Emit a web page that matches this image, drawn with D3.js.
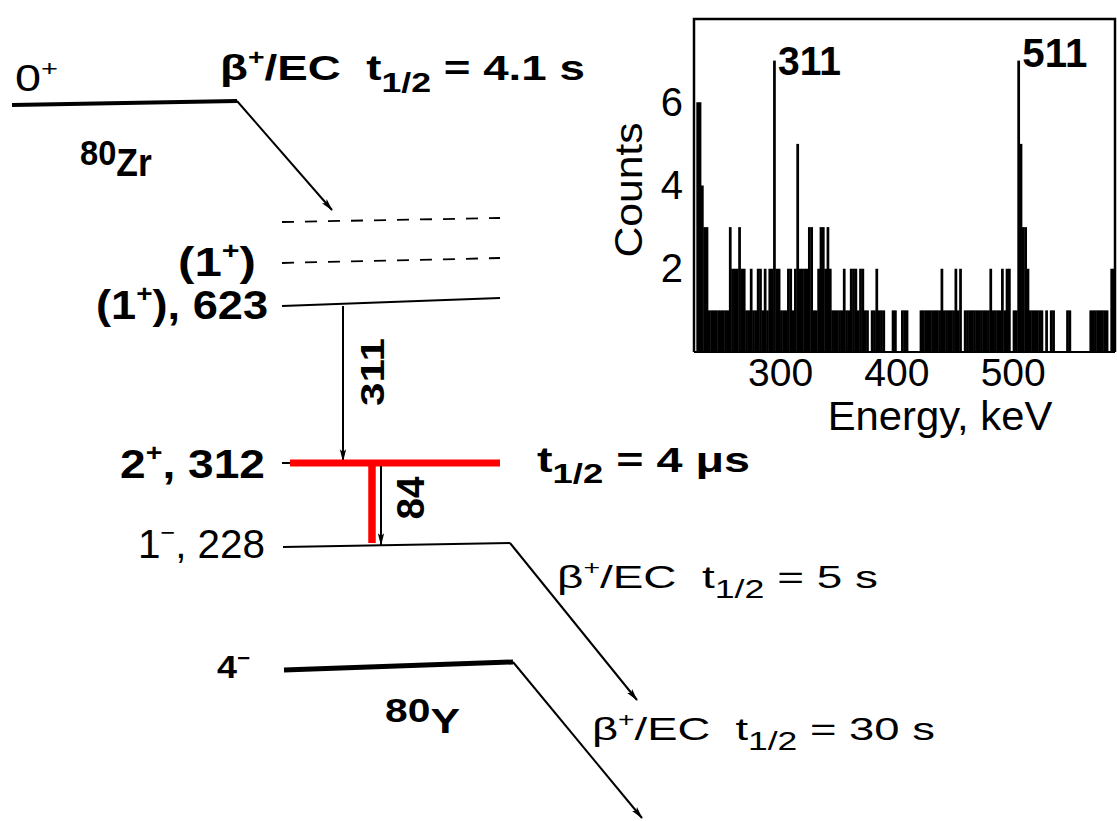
<!DOCTYPE html>
<html><head><meta charset="utf-8">
<script src="https://cdn.jsdelivr.net/npm/d3@7"></script>
<style>
html,body{margin:0;padding:0;background:#fff;}
svg{display:block;}
text{font-family:"Liberation Sans", Arial, Helvetica, sans-serif; fill:#000;}
</style></head><body>
<svg id="chart" width="1117" height="821"></svg>
<script>
// ---------------- Inset spectrum data ----------------
const spectrumStartKeV = 228;   // first bin lower edge
const spectrumBinKeV = 2;       // bin width
const spectrumCounts = [
  6,6,4,3,3,1,1,1,1,1, 1,1,1,1,3,2,2,2,3,2,
  2,1,1,2,1,1,2,2,1,2, 1,2,2,7,2,2,1,1,1,2,
  2,1,2,5,2,2,2,2,3,3, 1,1,2,3,3,2,3,2,1,1,
  1,1,1,2,1,1,2,2,2,1, 2,2,1,1,0,1,1,2,1,1,
  1,0,0,0,1,1,0,0,1,1, 1,0,0,0,0,0,1,1,1,1,
  1,1,1,1,1,2,1,1,1,1, 1,2,1,2,0,1,1,1,1,1,
  1,1,1,1,1,1,2,1,1,1, 1,2,1,2,2,0,1,1,7,5,
  3,3,2,1,1,1,1,1,1,0, 1,0,1,1,0,0,0,0,0,1,
  1,0,0,0,0,0,0,0,0,1, 1,1,1,1,1,1,1,0,2,2
];
const energyDomain = [226, 588];
const countDomain = [0, 8];
const energyTicks = [300, 400, 500];
const countTicks = [2, 4, 6];
const peakLabels = ["311", "511"];
const peakBinEnergies = [294, 504];
const xAxisTitle = "Energy, keV";
const yAxisTitle = "Counts";

// ---------------- Decay-scheme text ----------------
const parentSpin = [["0","n"],["+","sup"]];
const parentNucleus = [["80","raise"],["Zr","n"]];
const daughterNucleus = [["80","raise"],["Y","n"]];
const decayZr = [["β","n"],["+","sup"],["/EC\u00A0\u00A0t","n"],["1/2","sub"],["\u00A0=\u00A04.1\u00A0s","n"]];
const decayIso = [["β","n"],["+","sup"],["/EC\u00A0\u00A0t","n"],["1/2","sub"],["\u00A0=\u00A05\u00A0s","n"]];
const decayGs = [["β","n"],["+","sup"],["/EC\u00A0\u00A0t","n"],["1/2","sub"],["\u00A0=\u00A030\u00A0s","n"]];
const isomerHalfLife = [["t","n"],["1/2","sub"],["\u00A0=\u00A04\u00A0μs","n"]];
const lvlUpper = [["(1","n"],["+","sup"],[")","n"]];
const lvl623 = [["(1","n"],["+","sup"],["),\u00A0623","n"]];
const lvl312 = [["2","n"],["+","sup"],[",\u00A0312","n"]];
const lvl228 = [["1","n"],["−","sup"],[",\u00A0228","n"]];
const lvlGs = [["4","n"],["−","sup"]];
const gammaLabels = ["311", "84"];

// ---------------- drawing ----------------
const svg = d3.select("#chart");
const defs = svg.append("defs");
defs.append("marker").attr("id","arr")
  .attr("viewBox","0 -5 14 10").attr("refX",13).attr("refY",0)
  .attr("markerWidth",14).attr("markerHeight",9).attr("markerUnits","userSpaceOnUse")
  .attr("orient","auto")
  .append("path").attr("d","M0,-3.5L14,0L0,3.5L3,0Z").attr("fill","#000");

function rich(sel, o, parts){
  const t = sel.append("text")
    .attr("font-size", o.size)
    .attr("font-weight", o.weight || "normal")
    .attr("text-anchor", o.anchor || "start")
    .style("white-space","pre");
  let shift = 0;
  parts.forEach(([s,k]) => {
    let size = o.size, target = 0;
    if (k === "sup") { size = o.size*0.62; target = -o.size*0.42; }
    else if (k === "sub") { size = o.size*0.78; target = o.size*0.32; }
    else if (k === "raise") { size = o.size*0.92; target = -o.size*0.3; }
    t.append("tspan").attr("font-size", size).attr("dy", target - shift).text(s);
    shift = target;
  });
  const w = t.node().getBBox().width;
  const sx = o.width ? o.width / w : 1;
  t.attr("transform", `translate(${o.x},${o.y})` + (o.rotate ? ` rotate(${o.rotate})` : "") + ` scale(${sx},1)`);
  return t;
}

// ----- Inset spectrum -----
const x = d3.scaleLinear().domain(energyDomain).range([694, 1115]);
const y = d3.scaleLinear().domain(countDomain).range([352, 19]);
const ins = svg.append("g");

const bins = spectrumCounts.map((c,i) => ({e0: spectrumStartKeV + i*spectrumBinKeV, c}));
ins.selectAll("rect.bin").data(bins.filter(d => d.c > 0)).join("rect")
  .attr("class","bin")
  .attr("x", d => x(d.e0))
  .attr("width", d => x(d.e0 + spectrumBinKeV) - x(d.e0) + 0.4)
  .attr("y", d => y(d.c))
  .attr("height", d => y(0) - y(d.c))
  .attr("fill","#000");

// frame
ins.append("path")
  .attr("d", `M${x(energyDomain[0])},${y(0)}V${y(countDomain[1])}H${x(energyDomain[1])}V${y(0)}`)
  .attr("fill","none").attr("stroke","#000").attr("stroke-width",2.5);
ins.append("line").attr("x1",x(energyDomain[0])).attr("x2",x(energyDomain[1]))
  .attr("y1",y(0)).attr("y2",y(0)).attr("stroke","#000").attr("stroke-width",2);

const xa = ins.append("g").attr("transform",`translate(0,${y(0)})`)
  .call(d3.axisBottom(x).tickValues(energyTicks).tickSize(0).tickPadding(6).tickFormat(d3.format("d")));
xa.select(".domain").remove();
xa.attr("font-size", null).attr("font-family", null);
xa.selectAll("text").style("font-size","39px").style("font-family","'Liberation Sans', Arial, sans-serif").attr("fill","#000");

const ya = ins.append("g").attr("transform",`translate(${x(energyDomain[0])},0)`)
  .call(d3.axisLeft(y).tickValues(countTicks).tickSize(0).tickPadding(11).tickFormat(d3.format("d")));
ya.select(".domain").remove();
ya.attr("font-size", null).attr("font-family", null);
ya.selectAll("text").style("font-size","40px").style("font-family","'Liberation Sans', Arial, sans-serif").attr("fill","#000");

peakLabels.forEach((lab,i) => {
  rich(ins, {x: x(peakBinEnergies[i]) + 5, y: i === 0 ? 75 : 67, size: 40, weight: "bold", width: i === 0 ? 63 : 65}, [[lab,"n"]]);
});
rich(ins, {x: 940, y: 430, size: 40, anchor: "middle", width: 225}, [[xAxisTitle,"n"]]);
rich(ins, {x: 642, y: 190, size: 38, anchor: "middle", rotate: -90, width: 135}, [[yAxisTitle,"n"]]);

// ----- Decay scheme -----
const sc = svg.append("g");
function seg(x1,y1,x2,y2,w,col,extra){
  const l = sc.append("line").attr("x1",x1).attr("y1",y1).attr("x2",x2).attr("y2",y2)
    .attr("stroke",col||"#000").attr("stroke-width",w);
  if (extra) extra(l);
  return l;
}
const arrow = l => l.attr("marker-end","url(#arr)");
const dashed = l => l.attr("stroke-dasharray","12,11");

// 80Zr ground state
seg(12,105,237,101,4);
seg(237,101,332,210,2,null,arrow);
// 80Y levels
seg(282,222,500,218,1.8,null,dashed);
seg(282,263,500,258,1.8,null,dashed);
seg(282,306,500,298,2.2);
seg(343,306,343,461,2,null,arrow);
seg(282,463,500,463,2);
seg(290,463,500,463,7,"#ff0000");
seg(372,463,372,543,7.5,"#ff0000");
seg(381,466,381,545,2,null,arrow);
seg(283,547,510,543,2.2);
seg(510,543,637,700,2,null,arrow);
seg(284,670,513,662,5);
seg(513,662,642,818,2,null,arrow);

// scheme text
rich(sc, {x:15, y:91, size:36, width:43}, parentSpin);
rich(sc, {x:220, y:80, size:36, weight:"bold", width:365}, decayZr);
rich(sc, {x:80, y:176, size:38, weight:"bold", width:72}, parentNucleus);
rich(sc, {x:256, y:276, size:40, weight:"bold", anchor:"end", width:78}, lvlUpper);
rich(sc, {x:268, y:319, size:40, weight:"bold", anchor:"end", width:172}, lvl623);
rich(sc, {x:265, y:478, size:40, weight:"bold", anchor:"end", width:145}, lvl312);
rich(sc, {x:265, y:558, size:40, anchor:"end", width:127}, lvl228);
rich(sc, {x:250, y:678, size:32, weight:"bold", anchor:"end", width:33}, lvlGs);
rich(sc, {x:537, y:472, size:35, weight:"bold", width:213}, isomerHalfLife);
rich(sc, {x:385, y:733, size:36, weight:"bold", width:75}, daughterNucleus);
rich(sc, {x:557, y:588, size:32, width:321}, decayIso);
rich(sc, {x:592, y:740, size:32, width:343}, decayGs);
rich(sc, {x:384, y:372, size:34, weight:"bold", anchor:"middle", rotate:-90, width:68}, [[gammaLabels[0],"n"]]);
rich(sc, {x:424, y:498, size:38, weight:"bold", anchor:"middle", rotate:-90, width:43}, [[gammaLabels[1],"n"]]);
</script>
</body></html>
